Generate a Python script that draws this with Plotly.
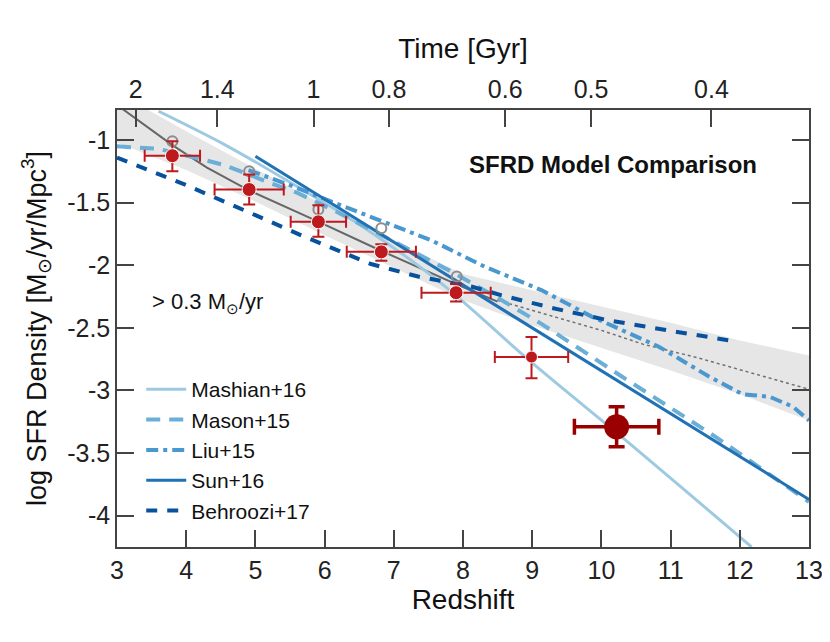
import plotly.graph_objects as go

# ---- data ----
z_obs = [3.8, 4.91, 5.91, 6.82, 7.9, 8.99]
sfrd_obs = [-1.125, -1.395, -1.653, -1.893, -2.219, -2.733]
z_err = [0.4, 0.5, 0.4, 0.5, 0.5, 0.53]
sfrd_err_up = [0.115, 0.12, 0.133, 0.06, 0.07, 0.16]
sfrd_err_dn = [0.125, 0.12, 0.12, 0.07, 0.07, 0.17]

z_new = [10.22]
sfrd_new = [-3.29]
z_new_err = [0.61]
sfrd_new_err = [0.16]

z_alt = [3.8, 4.91, 5.91, 6.82, 7.91]
sfrd_alt = [-1.01, -1.25, -1.555, -1.705, -2.09]

fit_z = [3.0, 3.8, 4.3, 4.9, 5.9, 6.8, 7.9, 8.5]
fit_y = [-0.72, -1.04, -1.22, -1.40, -1.65, -1.88, -2.15, -2.29]
ext_z = [8.5, 10.0, 10.6, 11.4, 13.0]
ext_y = [-2.28, -2.52, -2.63, -2.74, -2.99]

band_z = [3, 4, 5, 6, 7, 8, 9, 10, 11, 12, 13]
band_hi = [-0.62, -0.93, -1.23, -1.52, -1.80, -2.07, -2.20, -2.33, -2.46, -2.60, -2.72]
band_lo = [-1.02, -1.24, -1.49, -1.76, -2.02, -2.28, -2.48, -2.66, -2.84, -3.03, -3.24]

mashian_z = [3.6, 4.6, 5.6, 6.6, 7.7, 9.0, 10.4, 12.17]
mashian_y = [-0.77, -1.05, -1.37, -1.71, -2.15, -2.78, -3.42, -4.25]

mason_z = [3.0, 3.6, 4.2, 4.55, 5.2, 5.6, 6.2, 6.8, 7.4, 7.83, 8.5, 9.14, 10.3, 11.65, 13.0]
mason_y = [-1.05, -1.07, -1.15, -1.20, -1.34, -1.42, -1.58, -1.75, -1.92, -2.05, -2.26, -2.47, -2.89, -3.37, -3.89]

liu_z = [4.9, 5.5, 6.09, 6.81, 7.54, 8.31, 9.14, 9.86, 10.83, 11.56, 12.04, 12.43, 12.77, 13.0]
liu_y = [-1.24, -1.36, -1.49, -1.64, -1.80, -2.01, -2.20, -2.41, -2.65, -2.89, -3.03, -3.05, -3.13, -3.24]

sun_z = [5.0, 13.0]
sun_y = [-1.13, -3.87]

behroozi_z = [3.0, 4.0, 5.0, 5.7, 6.67, 7.35, 8.12, 8.56, 9.28, 10.1, 11.07, 11.85]
behroozi_y = [-1.14, -1.36, -1.60, -1.77, -1.99, -2.09, -2.17, -2.24, -2.34, -2.44, -2.53, -2.60]

time_tick_z = [3.27, 4.45, 5.84, 6.93, 8.61, 9.85, 11.59]
time_tick_text = ['2', '1.4', '1', '0.8', '0.6', '0.5', '0.4']

y_ticks = [-4, -3.5, -3, -2.5, -2, -1.5, -1]
y_tick_text = ['-4', '-3.5', '-3', '-2.5', '-2', '-1.5', '-1']

FONT = 'Liberation Sans, Arial, sans-serif'
AX = '#444444'

fig = go.Figure()

# shaded uncertainty band
fig.add_trace(go.Scatter(x=band_z + band_z[::-1], y=band_hi + band_lo[::-1],
                         fill='toself', fillcolor='#e6e6e6', line=dict(width=0),
                         mode='lines', showlegend=False, hoverinfo='skip'))
fig.add_trace(go.Scatter(x=fit_z, y=fit_y, mode='lines',
                         line=dict(color='#666666', width=2), showlegend=False))
fig.add_trace(go.Scatter(x=ext_z, y=ext_y, mode='lines',
                         line=dict(color='#707070', width=1.5, dash='dot'), showlegend=False))

# models
fig.add_trace(go.Scatter(x=mashian_z, y=mashian_y, mode='lines', name='Mashian+16',
                         line=dict(color='#9ecae1', width=3, shape='spline')))
fig.add_trace(go.Scatter(x=mason_z, y=mason_y, mode='lines', name='Mason+15',
                         line=dict(color='#6baed6', width=4, dash='14px,9px')))
fig.add_trace(go.Scatter(x=liu_z, y=liu_y, mode='lines', name='Liu+15',
                         line=dict(color='#4a98cf', width=4, dash='12px,5px,4px,5px')))
fig.add_trace(go.Scatter(x=sun_z, y=sun_y, mode='lines', name='Sun+16',
                         line=dict(color='#2171b5', width=3)))
fig.add_trace(go.Scatter(x=behroozi_z, y=behroozi_y, mode='lines', name='Behroozi+17',
                         line=dict(color='#08519c', width=4, dash='11px,10px')))

# alternative estimates (open circles)
fig.add_trace(go.Scatter(x=z_alt, y=sfrd_alt, mode='markers', showlegend=False,
                         marker=dict(symbol='circle-open', size=10, color='#8c8c8c',
                                     line=dict(width=2, color='#8c8c8c'))))

# measurements
fig.add_trace(go.Scatter(
    x=z_obs, y=sfrd_obs, mode='markers', showlegend=False,
    marker=dict(size=[14, 14, 14, 14, 14, 12], color='#bd1a1e', opacity=1),
    error_x=dict(type='data', array=z_err, color='#bd1a1e', thickness=2, width=6),
    error_y=dict(type='data', array=sfrd_err_up, arrayminus=sfrd_err_dn,
                 color='#bd1a1e', thickness=2, width=6)))
fig.add_trace(go.Scatter(
    x=z_new, y=sfrd_new, mode='markers', showlegend=False,
    marker=dict(size=25, color='#990000', opacity=1),
    error_x=dict(type='data', array=z_new_err, color='#990000', thickness=3.5, width=8),
    error_y=dict(type='data', array=sfrd_new_err, color='#990000', thickness=3.5, width=8)))

# dummy trace for the top time axis
fig.add_trace(go.Scatter(x=[3, 13], y=[None, None], xaxis='x2', mode='lines',
                         showlegend=False, hoverinfo='skip'))

fig.add_annotation(x=8.06, y=-1.196, xref='x', yref='y', xanchor='left', showarrow=False,
                   text='<b>SFRD Model Comparison</b>',
                   font=dict(family=FONT, size=24, color='#111111'))
fig.add_annotation(x=3.47, y=-2.30, xref='x', yref='y', xanchor='left', showarrow=False,
                   text='&gt; 0.3 M<sub>⊙</sub>/yr',
                   font=dict(family=FONT, size=22, color='#111111'))

# page body adds an 8px offset, margins compensate for it
fig.update_layout(
    width=830, height=642,
    margin=dict(l=109, r=29, t=102, b=103),
    paper_bgcolor='white', plot_bgcolor='white',
    font=dict(family=FONT, color='#222222'),
    xaxis=dict(range=[3, 13], tickvals=list(range(3, 14)), ticks='inside', ticklen=17,
               tickwidth=1.5, tickcolor=AX, showline=True, linecolor=AX, linewidth=1.5,
               mirror=True, showgrid=False, zeroline=False, automargin=False,
               tickfont=dict(size=25, family=FONT, color='#222222'),
               title=dict(text='Redshift', font=dict(size=28, family=FONT, color='#111111'),
                          standoff=4)),
    xaxis2=dict(range=[3, 13], overlaying='x', side='top', anchor='y',
                tickvals=time_tick_z, ticktext=time_tick_text, ticks='inside', ticklen=17,
                tickwidth=1.5, tickcolor=AX, showline=False, showgrid=False, zeroline=False,
                automargin=False, ticklabelstandoff=6,
                tickfont=dict(size=25, family=FONT, color='#222222'),
                title=dict(text='Time [Gyr]', font=dict(size=28, family=FONT, color='#111111'),
                           standoff=8)),
    yaxis=dict(range=[-4.25, -0.76], tickvals=y_ticks, ticktext=y_tick_text, ticks='inside',
               ticklen=17, tickwidth=1.5, tickcolor=AX, showline=True, linecolor=AX,
               linewidth=1.5, mirror='ticks', showgrid=False, zeroline=False,
               automargin=False,
               tickfont=dict(size=25, family=FONT, color='#222222'),
               title=dict(text='log SFR Density [M<sub>⊙</sub>/yr/Mpc<sup>3</sup>]',
                          font=dict(size=27, family=FONT, color='#111111'), standoff=13)),
    legend=dict(x=0.035, y=0.407, xanchor='left', yanchor='top', bgcolor='rgba(0,0,0,0)',
                font=dict(size=21, family=FONT, color='#111111'), itemwidth=40,
                tracegroupgap=0),
)

fig.write_html("out.html")
